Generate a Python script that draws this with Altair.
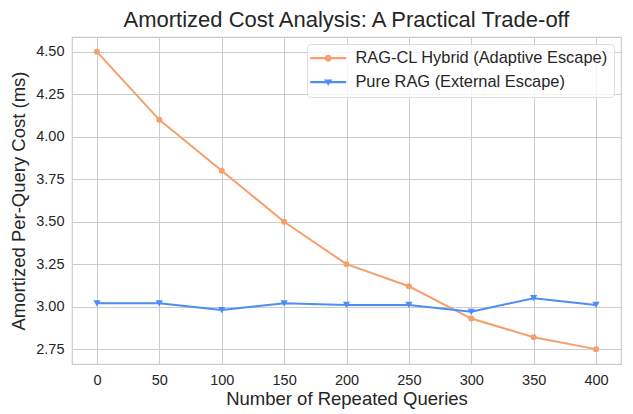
import altair as alt
import pandas as pd

queries = [0, 50, 100, 150, 200, 250, 300, 350, 400]
hybrid = [4.50, 4.10, 3.80, 3.50, 3.25, 3.12, 2.93, 2.82, 2.75]
pure = [3.02, 3.02, 2.98, 3.02, 3.01, 3.01, 2.97, 3.05, 3.01]
series_names = ["RAG-CL Hybrid (Adaptive Escape)", "Pure RAG (External Escape)"]
colors = ["#F5A06B", "#4D8DF6"]

rows = []
for q, h, p in zip(queries, hybrid, pure):
    rows.append({"q": q, "cost": h, "series": series_names[0]})
    rows.append({"q": q, "cost": p, "series": series_names[1]})
df = pd.DataFrame(rows)

FONT = "Liberation Sans"
xs = alt.Scale(domain=[-20, 420], nice=False, zero=False)
ys = alt.Scale(domain=[2.6625, 4.5875], nice=False, zero=False)
cs = alt.Scale(domain=series_names, range=colors)

x = alt.X("q:Q", scale=xs, title="Number of Repeated Queries",
          axis=alt.Axis(values=queries, format="d", grid=True, ticks=False, domain=False,
                        labelPadding=9, titlePadding=3))
y = alt.Y("cost:Q", scale=ys, title="Amortized Per-Query Cost (ms)",
          axis=alt.Axis(values=[2.75, 3.0, 3.25, 3.5, 3.75, 4.0, 4.25, 4.5], format=".2f",
                        grid=True, ticks=False, domain=False, labelPadding=8, titlePadding=7))

base = alt.Chart(df)
lines = base.mark_line(strokeWidth=2).encode(
    x=x, y=y, color=alt.Color("series:N", scale=cs, legend=None), detail="series:N")
pts_h = base.transform_filter(alt.datum.series == series_names[0]).mark_point(
    shape="circle", filled=True, size=36, opacity=1).encode(
    x=x, y=y, color=alt.Color("series:N", scale=cs, legend=None))
pts_p = base.transform_filter(alt.datum.series == series_names[1]).mark_point(
    shape="triangle-down", filled=True, size=52, opacity=1).encode(
    x=x, y=y, color=alt.Color("series:N", scale=cs, legend=None))

line_circle = ("M-3,-0.18H3V0.18H-3Z "
               "M0.58,0A0.58,0.58 0 1,1 -0.58,0A0.58,0.58 0 1,1 0.58,0Z")
line_tri = ("M-3,-0.18H3V0.18H-3Z "
            "M-0.7,-0.45L0.7,-0.45L0,0.6Z")

legend_layer = base.transform_filter(alt.datum.q < -1000).mark_point(
    filled=True, opacity=1).encode(
    x=x, y=y,
    color=alt.Color("series:N", scale=cs, title=None,
                    legend=alt.Legend(orient="top-right", offset=7, symbolSize=144,
                                      symbolOpacity=1, symbolStrokeWidth=0,
                                      symbolOffset=7, labelOffset=19,
                                      labelFontSize=16.4, labelFont=FONT,
                                      labelColor="#262626", padding=6, rowPadding=7,
                                      fillColor="rgba(255,255,255,0.8)",
                                      strokeColor="#dddddd", cornerRadius=4,
                                      labelLimit=400)),
    shape=alt.Shape("series:N", scale=alt.Scale(domain=series_names,
                                                range=[line_circle, line_tri]), title=None))

chart = alt.layer(lines, pts_h, pts_p, legend_layer).resolve_scale(
    color="independent", shape="independent"
).properties(
    width=549, height=327,
    background="white",
    autosize=alt.AutoSizeParams(type="none"),
    padding={"left": 64, "top": 29, "right": 4, "bottom": 49},
    title=alt.Title("Amortized Cost Analysis: A Practical Trade-off", fontSize=22,
                    font=FONT, fontWeight="normal", color="#262626", offset=5, anchor="middle"),
).configure_view(stroke="#cccccc", strokeWidth=1.2).configure_axis(
    gridColor="#cccccc", gridWidth=1, labelFont=FONT, titleFont=FONT, labelFontSize=14.5,
    titleFontSize=18.5, titleFontWeight="normal", labelColor="#262626", titleColor="#262626"
)

chart.save("out.html", embed_options={"renderer": "svg", "actions": False})
